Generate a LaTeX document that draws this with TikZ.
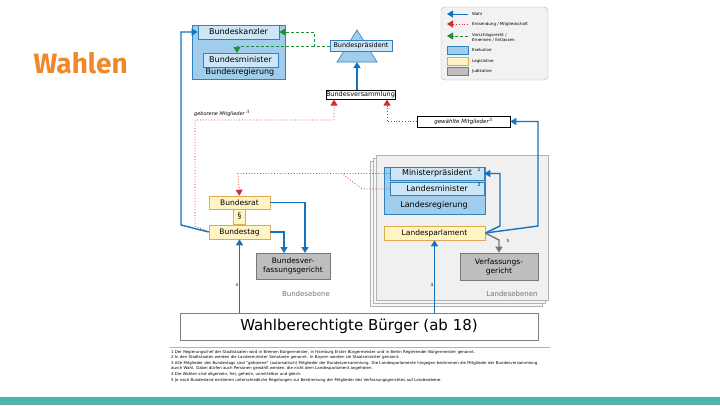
\documentclass[tikz,border=0pt]{standalone}
\usepackage{fontspec}
\setmainfont{DejaVu Sans}
\newfontfamily\titlefont{Fira Sans}
\usetikzlibrary{arrows.meta, positioning, calc}
\definecolor{exfill}{RGB}{160,205,235}
\definecolor{exline}{RGB}{50,130,190}
\definecolor{exin}{RGB}{205,230,247}
\definecolor{lgfill}{RGB}{255,244,195}
\definecolor{lgline}{RGB}{225,170,80}
\definecolor{jufill}{RGB}{190,190,190}
\definecolor{juline}{RGB}{120,120,120}
\definecolor{wahl}{RGB}{20,115,190}
\definecolor{entsend}{RGB}{215,45,40}
\definecolor{vorschlag}{RGB}{30,145,60}
\definecolor{titleorange}{RGB}{240,135,40}
\definecolor{teal}{RGB}{80,180,170}
\tikzset{
  exek/.style={draw=exline, fill=exfill, line width=0.8pt},
  exin/.style={draw=exline, fill=exin, line width=0.6pt, inner sep=0pt, font=\fontsize{8}{8}\selectfont},
  legi/.style={draw=lgline, fill=lgfill, line width=0.6pt, inner sep=0pt, font=\fontsize{7.5}{8}\selectfont},
  judi/.style={draw=juline, fill=jufill, line width=0.6pt, inner sep=0pt, align=center, font=\fontsize{7.5}{9}\selectfont},
  plain/.style={draw=black, fill=white, line width=0.5pt, inner sep=0pt, font=\fontsize{6.5}{7}\selectfont},
  wahlarr/.style={draw=wahl, line width=1.4pt, -{Triangle[length=6pt,width=7pt]}},
  entline/.style={draw=entsend, line width=0.8pt, dotted},
  entarr/.style={entline, -{Triangle[length=6pt,width=7pt]}},
  vorarr/.style={draw=vorschlag, line width=0.9pt, dash pattern=on 3pt off 2pt, -{Triangle[length=6pt,width=7pt]}},
  richt/.style={draw=juline, line width=1.4pt, -{Triangle[length=6pt,width=7pt]}},
  small/.style={font=\fontsize{4}{5}\selectfont, inner sep=0pt}
}
\begin{document}
\begin{tikzpicture}[x=1pt, y=-1pt]
  \useasboundingbox (0,0) rectangle (720,405);
  \fill[white] (0,0) rectangle (720,405);
  \fill[teal] (0,397) rectangle (720,405);
  \node[anchor=west, text=titleorange, font=\titlefont\bfseries\fontsize{28}{28}\selectfont] (title) at (30,63) {Wahlen};

  % legend
  \draw[rounded corners=4pt, fill=black!5, draw=black!30] (441,7) rectangle (548,80);
  \draw[wahlarr, line width=1pt] (468,14) -- (447,14);
  \node[small, anchor=west] (lwahl) at (472,14) {Wahl};
  \draw[entarr] (468,24) -- (447,24);
  \node[small, anchor=west] (lent) at (472,24) {Entsendung / Mitgliedschaft};
  \draw[vorarr] (468,36) -- (447,36);
  \node[small, anchor=west, align=left] (lvor) at (472,38) {Vorschlagsrecht /\\Ernennen / Entlassen};
  \draw[exek, line width=0.5pt] (447,46) rectangle (468,54);
  \node[small, anchor=west] (lexe) at (472,50) {Exekutive};
  \draw[legi] (447,57) rectangle (468,65);
  \node[small, anchor=west] (lleg) at (472,61) {Legislative};
  \draw[judi] (447,67) rectangle (468,75);
  \node[small, anchor=west] (ljud) at (472,71) {Judikative};

  % Bundesregierung
  \draw[exek] (192,25) rectangle (285,79);
  \node[exin, minimum width=81pt, minimum height=14pt] (kanzler) at (238.5,32) {Bundeskanzler};
  \node[exin, minimum width=75pt, minimum height=14pt] (minister) at (240.5,60) {Bundesminister};
  \node[font=\fontsize{8}{8}\selectfont, inner sep=0pt] (bureg) at (240,72) {Bundesregierung};

  % Bundespraesident
  \draw[exek, line width=0.6pt] (357,30) -- (337,62) -- (377,62) -- cycle;
  \node[exin, font=\fontsize{6.5}{7}\selectfont, minimum width=62pt, minimum height=11pt] (praes) at (361,46) {Bundespräsident};
  \node[plain, minimum width=69pt, minimum height=9pt] (bversamml) at (360.5,95) {Bundesversammlung};
  \draw[wahlarr] (bversamml.north -| 357,0) -- (357,62);

  \coordinate (v1) at (314,46);
  \draw[vorarr] (praes.west) -- (v1) -- (314,32) -- (kanzler.east);
  \draw[vorarr] (v1) -- (237,46) -- (237,53);

  % Landesebenen panels
  \draw[draw=black!30, fill=black!3] (370,161) rectangle (542,306);
  \draw[draw=black!30, fill=black!4] (373,158) rectangle (545,303);
  \draw[draw=black!30, fill=black!6] (376,155) rectangle (548,300);

  \draw[exek] (384,167) rectangle (485,214);
  \node[exin, minimum width=94pt, minimum height=13pt] (mpraes) at (437,173.5) {Ministerpräsident};
  \node[exin, minimum width=94pt, minimum height=13pt] (lminister) at (437,189) {Landesminister};
  \node[small, font=\fontsize{4.5}{5}\selectfont] at (479,170) {1};
  \node[small, font=\fontsize{4.5}{5}\selectfont] at (479,185) {2};
  \node[font=\fontsize{8}{8}\selectfont, inner sep=0pt] (lreg) at (434,205) {Landesregierung};
  \node[legi, minimum width=101pt, minimum height=14pt] (lparl) at (434.5,233) {Landesparlament};
  \node[judi, minimum width=78pt, minimum height=27pt] (lvg) at (499,266.5) {Verfassungs-\\gericht};
  \node[font=\fontsize{7}{7}\selectfont, text=black!55, inner sep=0pt] (lebene) at (512,294) {Landesebenen};

  % Bundesebene
  \node[legi, minimum width=61pt, minimum height=13pt] (brat) at (239.5,202.5) {Bundesrat};
  \node[legi, minimum width=12pt, minimum height=15pt] (par) at (239.5,216.5) {§};
  \node[legi, minimum width=61pt, minimum height=14pt] (btag) at (239.5,232) {Bundestag};
  \node[judi, minimum width=74pt, minimum height=26pt] (bvg) at (293,266) {Bundesver-\\fassungsgericht};
  \node[font=\fontsize{7}{7}\selectfont, text=black!55, inner sep=0pt] (bebene) at (306,294) {Bundesebene};

  \node[font=\itshape\fontsize{5}{6}\selectfont, inner sep=0pt, anchor=west] (geboren) at (194,113) {geborene Mitglieder $^{3}$};
  \node[plain, font=\itshape\fontsize{5.5}{6}\selectfont, minimum width=93pt, minimum height=11pt] (gewaehlt) at (463.5,121.5) {gewählte Mitglieder$^{3}$};

  % Wahlberechtigte
  \node[draw=black!50, fill=white, line width=0.6pt, minimum width=358pt, minimum height=27pt, font=\fontsize{15}{15}\selectfont] (buerger) at (359,326.5) {Wahlberechtigte Bürger (ab 18)};

  % connectors
  \draw[wahlarr] (buerger.north -| btag) -- (btag.south);
  \draw[wahlarr] (buerger.north -| lparl) -- (lparl.south);
  \node[small] at (237,285) {4};
  \node[small] at (432,285) {4};
  \draw[wahlarr] (btag.west) -- (181,225) -- (181,32) -- (kanzler.west);
  \draw[wahlarr] (brat.east) -- (305,202.5) -- (305,253);
  \draw[wahlarr] (btag.east) -- (284,232) -- (284,253);
  \draw[wahlarr] (lparl.east) -- (500,226) -- (500,173.5) -- (mpraes.east);
  \draw[wahlarr] (lparl.east) -- (538,226) -- (538,121.5) -- (gewaehlt.east);
  \draw[richt] (lparl.east) -- (499,240) -- (lvg.north);
  \node[small] at (508,241) {5};

  \draw[entarr] (btag.west) -- (195,226) -- (195,120) -- (334,120) -- (334,99.5);
  \draw[entarr] (gewaehlt.west) -- (387,121.5) -- (387,99.5);
  \draw[entarr] (mpraes.west) -- (238,173.5) -- (brat.north);
  \draw[entline] (lminister.west) -- (362,189) -- (342,173.5);

  % footnotes
  \draw[black!30] (170,347) -- (550,347);
  \node[anchor=north west, text width=378pt, align=left, font=\fontsize{3.9}{5.6}\selectfont, inner sep=0pt] (fussnoten) at (171,350) {%
  1 Der Regierungschef der Stadtstaaten wird in Bremen Bürgermeister, in Hamburg Erster Bürgermeister und in Berlin Regierender Bürgermeister genannt.\\
  2 In den Stadtstaaten werden die Landesminister Senatoren genannt. In Bayern werden sie Staatsminister genannt.\\
  3 Alle Mitglieder des Bundestags sind "geborene" (automatisch) Mitglieder der Bundesversammlung. Die Landesparlamente hingegen bestimmen die Mitglieder der Bundesversammlung durch Wahl. Dabei dürfen auch Personen gewählt werden, die nicht dem Landesparlament angehören.\\
  4 Die Wahlen sind allgemein, frei, geheim, unmittelbar und gleich.\\
  5 Je nach Bundesland existieren unterschiedliche Regelungen zur Bestimmung der Mitglieder des Verfassungsgerichtes auf Landesebene.};
\end{tikzpicture}
\end{document}
